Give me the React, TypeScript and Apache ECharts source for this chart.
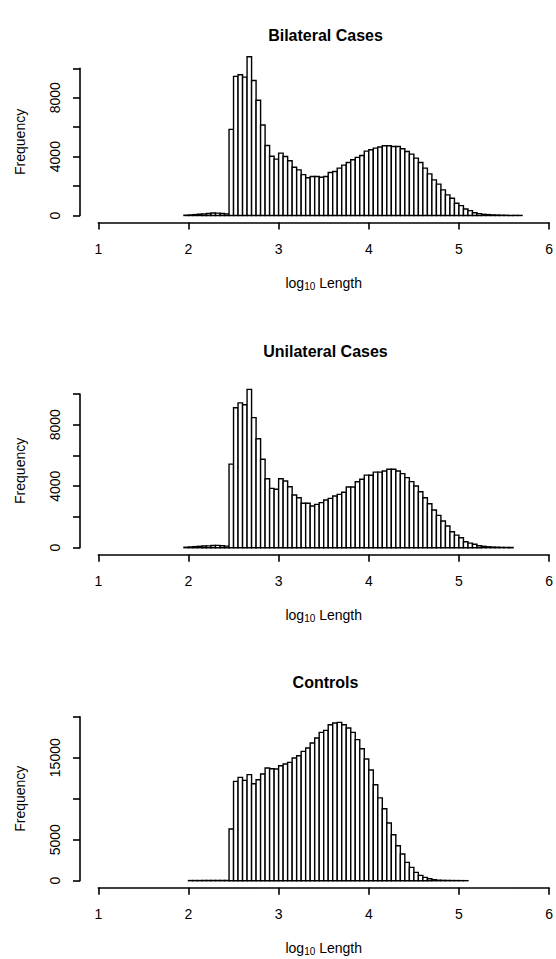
import React, { useEffect, useRef } from "react";
import * as echarts from "echarts";

// Histogram bin settings (log10 length)
const binWidth = 0.05;
const bilateralStart = 1.95;
const unilateralStart = 1.95;
const controlStart = 2.0;

const bilateralCounts = [
  20, 40, 60, 90, 110, 140, 170, 160, 140, 110,
  5850, 9450, 9560, 9400, 10780, 9170, 7830, 6150, 4760, 4030,
  3830, 4240, 4010, 3720, 3280, 3100, 2780, 2560, 2650, 2650,
  2600, 2650, 2920, 2990, 3220, 3420, 3600, 3790, 3950, 4080,
  4370, 4470, 4580, 4650, 4740, 4740, 4690, 4690, 4530, 4350,
  4170, 3900, 3600, 3220, 2830, 2420, 2130, 1740, 1400, 1170,
  830, 670, 440, 330, 190, 125, 80, 60, 40, 30,
  20, 15, 10, 8, 5,
];

const unilateralCounts = [
  30, 50, 70, 90, 110, 120, 140, 150, 130, 100,
  5440, 9110, 9420, 9300, 10300, 8460, 7090, 5750, 4490, 3860,
  3800, 4490, 4340, 3970, 3430, 3250, 2890, 2890, 2710, 2820,
  2930, 3100, 3210, 3360, 3470, 3610, 3950, 3950, 4290, 4450,
  4720, 4710, 4920, 4920, 4990, 5100, 5100, 4990, 4820, 4560,
  4300, 4010, 3640, 3250, 2860, 2450, 2100, 1740, 1410, 1040,
  820, 650, 390, 300, 220, 130, 90, 60, 40, 30,
  20, 15, 10,
];

const controlCounts = [
  20, 20, 20, 30, 30, 30, 30, 30, 30,
  6300, 12110, 12600, 12240, 12930, 11830, 12320, 13010, 13740, 13660,
  13620, 14020, 14230, 14430, 14960, 15240, 15770, 16180, 16790, 17400,
  18090, 18330, 19020, 19230, 19310, 19020, 18620, 18090, 17200, 16100,
  14840, 13500, 11700, 10100, 8780, 7030, 5610, 4270, 3250, 2240,
  1630, 1020, 650, 410, 240, 120, 60, 40, 30, 20,
  15, 10, 5,
];

const panelTitles = ["Bilateral Cases", "Unilateral Cases", "Controls"];
const yMax = [10000, 10000, 20000];
const yInterval = [2000, 2000, 5000];
const yLabelsShown = [
  [0, 4000, 8000],
  [0, 4000, 8000],
  [0, 5000, 15000],
];
const xTicks = { min: 1, max: 6, interval: 1 };

const FONT = "'Liberation Sans', Arial, Helvetica, sans-serif";

function toBins(start: number, counts: number[]) {
  return counts.map((c, i) => {
    const x0 = +(start + i * binWidth).toFixed(4);
    const x1 = +(start + (i + 1) * binWidth).toFixed(4);
    return [x0, x1, c];
  });
}

export default function App() {
  const ref = useRef<HTMLDivElement>(null);

  useEffect(() => {
    document.body.style.margin = "0";
    if (!ref.current) return;
    const chart = echarts.init(ref.current, undefined, { renderer: "svg" });

    const W = 556;
    const H = 959;
    const left = 98.3;
    const right = W - 552.7;
    // [top pixel of y max, pixel of y=0]
    const panels = [
      [68.3, 215.5],
      [394, 547.7],
      [716.7, 880.7],
    ];
    const titleY = [35, 351, 682];

    const datasets = [
      toBins(bilateralStart, bilateralCounts),
      toBins(unilateralStart, unilateralCounts),
      toBins(controlStart, controlCounts),
    ];

    const grids = panels.map(([t, b]) => ({
      left,
      right,
      top: t,
      bottom: H - b,
      containLabel: false,
    }));

    const xAxes = panels.map((_, i) => ({
      gridIndex: i,
      type: "value",
      min: xTicks.min,
      max: xTicks.max,
      interval: xTicks.interval,
      offset: 7,
      axisLine: { show: true, onZero: false, lineStyle: { color: "#000", width: 1.6 } },
      axisTick: { show: true, length: 7, lineStyle: { color: "#000", width: 1.6 } },
      axisLabel: {
        color: "#000",
        fontSize: 14,
        fontFamily: FONT,
        margin: 19,
        showMinLabel: true,
        showMaxLabel: true,
      },
      splitLine: { show: false },
      name: "{a|log}{b|10}{a| Length}",
      nameLocation: "middle",
      nameGap: 52,
      nameTextStyle: {
        rich: {
          a: { fontSize: 14, fontFamily: FONT, color: "#000" },
          b: { fontSize: 10, fontFamily: FONT, color: "#000", padding: [7, 0, 0, 0] },
        },
      },
    }));

    const yAxes = panels.map((_, i) => ({
      gridIndex: i,
      type: "value",
      min: 0,
      max: yMax[i],
      interval: yInterval[i],
      offset: 18.3,
      axisLine: { show: true, lineStyle: { color: "#000", width: 1.6 } },
      axisTick: { show: true, length: 7, lineStyle: { color: "#000", width: 1.6 } },
      axisLabel: {
        color: "#000",
        fontSize: 14,
        fontFamily: FONT,
        rotate: 90,
        margin: 18,
        formatter: (v: number) => (yLabelsShown[i].includes(v) ? String(v) : ""),
      },
      splitLine: { show: false },
      name: "Frequency",
      nameLocation: "middle",
      nameRotate: 90,
      nameGap: 53,
      nameTextStyle: { color: "#000", fontSize: 14, fontFamily: FONT },
    }));

    const series = datasets.map((data, i) => ({
      type: "custom",
      xAxisIndex: i,
      yAxisIndex: i,
      clip: false,
      encode: { x: [0, 1], y: 2 },
      data,
      renderItem: (_params: any, api: any) => {
        const p0 = api.coord([api.value(0), api.value(2)]);
        const p1 = api.coord([api.value(1), 0]);
        return {
          type: "rect",
          shape: { x: p0[0], y: p0[1], width: p1[0] - p0[0], height: p1[1] - p0[1] },
          style: { fill: "#fff", stroke: "#000", lineWidth: 1.4 },
        };
      },
    }));

    const graphic = panelTitles.map((t, i) => ({
      type: "text",
      x: 325.5,
      y: titleY[i],
      style: {
        text: t,
        fill: "#000",
        font: `bold 16px ${FONT}`,
        textAlign: "center",
        textVerticalAlign: "middle",
        verticalAlign: "middle",
      },
    }));

    chart.setOption({
      animation: false,
      backgroundColor: "#fff",
      grid: grids,
      xAxis: xAxes,
      yAxis: yAxes,
      series,
      graphic,
    } as any);

    return () => chart.dispose();
  }, []);

  return (
    <div
      ref={ref}
      style={{ position: "absolute", left: 0, top: 0, width: 556, height: 959 }}
    />
  );
}
